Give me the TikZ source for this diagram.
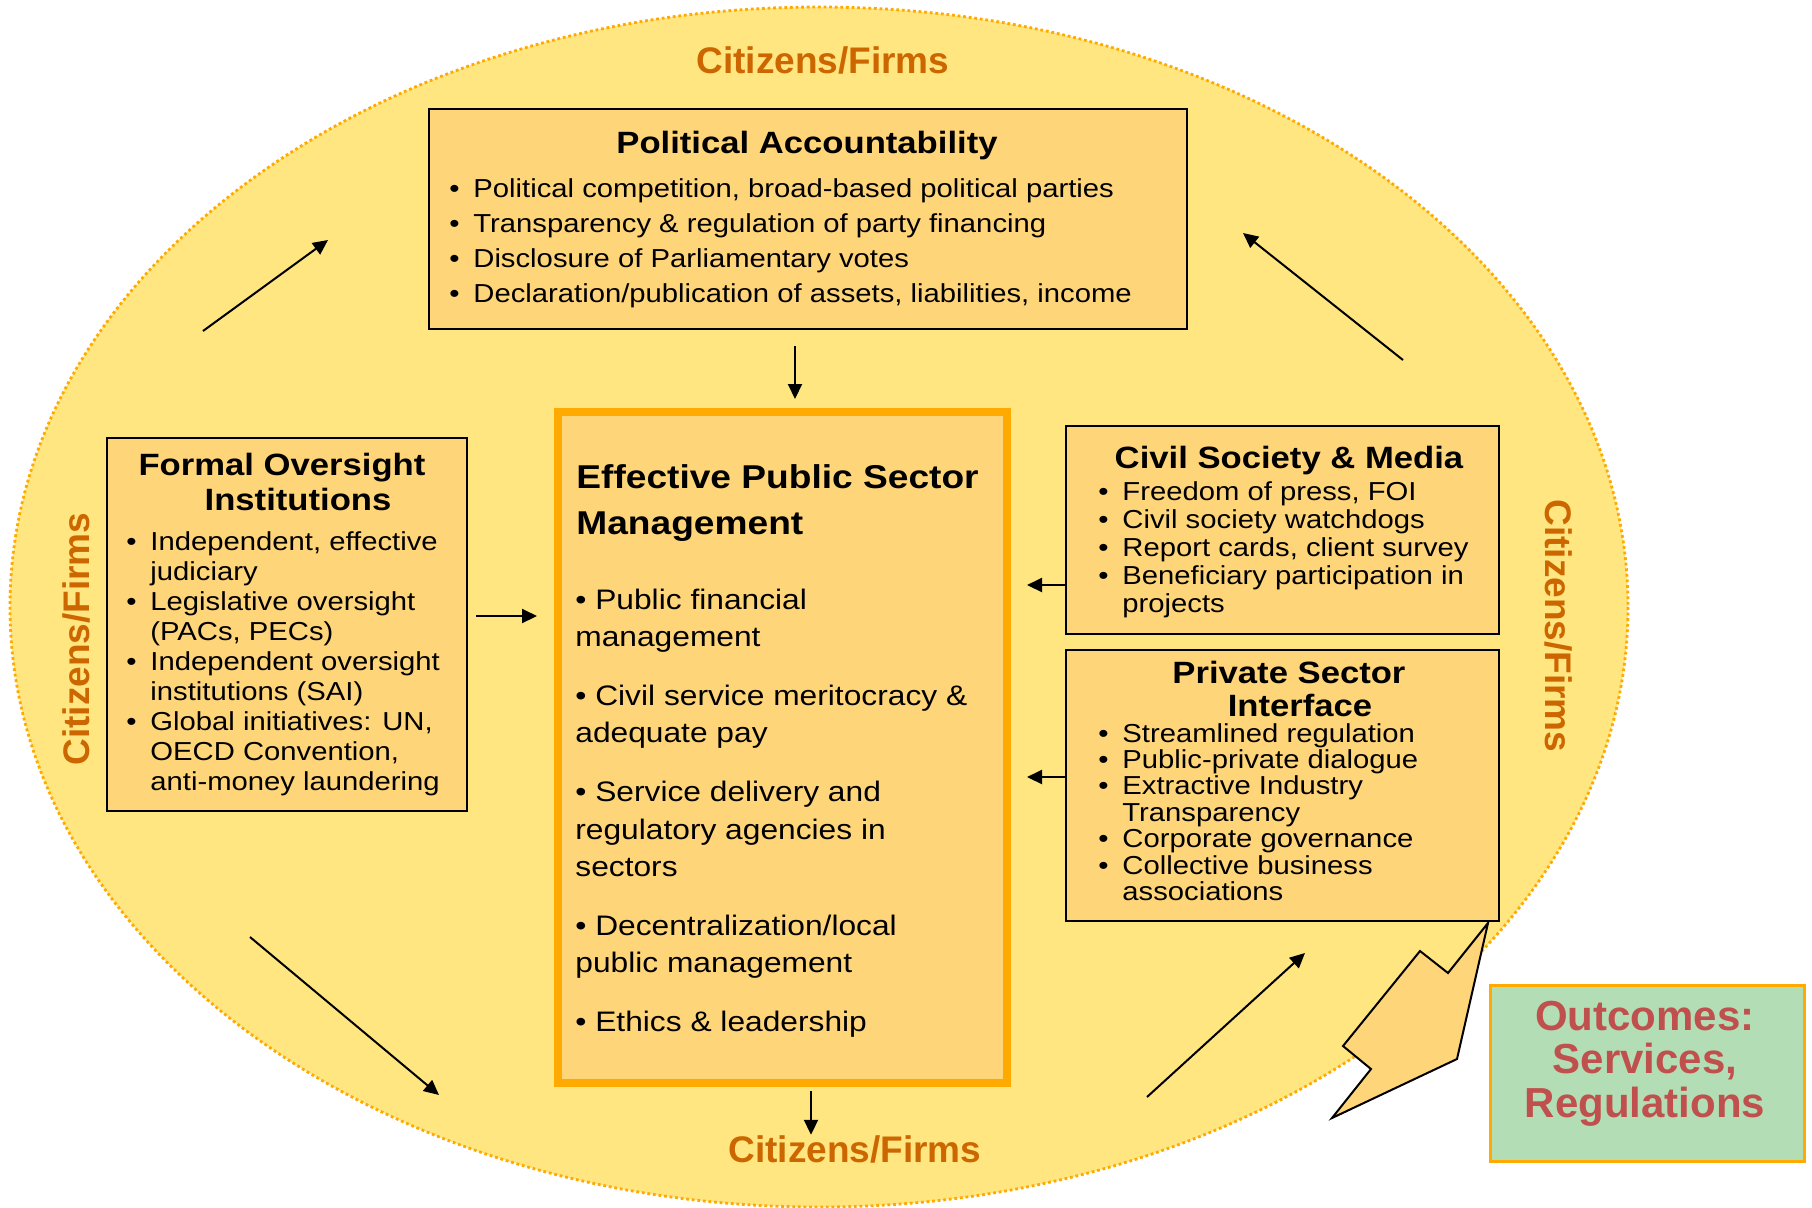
\documentclass[tikz,border=0pt]{standalone}
\usepackage{fontspec}
\setmainfont{Liberation Sans}[FakeStretch=1.125]
\newfontfamily\plainsans{Liberation Sans}
\usetikzlibrary{arrows.meta}
\definecolor{ellfill}{HTML}{FFE680}
\definecolor{boxfill}{HTML}{FFD57A}
\definecolor{orng}{HTML}{FFAA00}
\definecolor{citz}{HTML}{CC6600}
\definecolor{outg}{HTML}{B3DEB5}
\definecolor{outr}{HTML}{C0504D}
\newcommand\bl{\makebox[12pt][l]{•}}
\newcommand\ind{\hspace*{12pt}}
\lineskiplimit=-20pt
\begin{document}
\begin{tikzpicture}[x=0.5pt,y=-0.5pt,
  panel/.style={draw=black,line width=1pt,fill=boxfill,inner sep=0pt,anchor=north west},
  txt/.style={inner sep=0pt,anchor=base west},
  ttl/.style={inner sep=0pt,anchor=base,font=\bfseries\fontsize{15.4}{18}\selectfont},
  citlab/.style={inner sep=0pt,text=citz,font=\plainsans\bfseries\fontsize{18.5}{20}\selectfont},
  arr/.style={-{Triangle[length=7.5pt,width=7pt]},line width=1pt}]

\useasboundingbox (0,0) rectangle (1812,1207);
\fill[white] (0,0) rectangle (1812,1207);

% outer ellipse
\draw[fill=ellfill,draw=orng,line width=1.4pt,dash pattern=on 1.4pt off 1.4pt]
  (819,607) ellipse [x radius=809, y radius=600];

% big jagged arrow
\draw[fill=boxfill,line width=1pt,line join=miter]
  (1488,923) -- (1457,1059) -- (1332,1118) -- (1371,1069) -- (1343,1046)
  -- (1420,951) -- (1448,973) -- cycle;

% boxes
\node[panel,minimum width=379pt,minimum height=110pt] (pol) at (428,108) {};
\node[panel,minimum width=180pt,minimum height=186.5pt] (fo) at (106,437) {};
\node[panel,draw=orng,line width=4pt,minimum width=224.5pt,minimum height=335.5pt] (cpe) at (554,408) {};
\node[panel,minimum width=216.5pt,minimum height=104pt] (civ) at (1065,425) {};
\node[panel,minimum width=216.5pt,minimum height=135.5pt] (prv) at (1065,649) {};
\node[panel,fill=outg,draw=orng,line width=1.5pt,minimum width=157pt,minimum height=88pt] (out) at (1489,984) {};

% Political Accountability
\node[ttl] (polt) at (807,153) {Political Accountability};
\node[txt] (polb) at (449,197) {\parbox[t]{370pt}{\fontsize{13}{17.5}\selectfont
  \bl Political competition, broad-based political parties\\
  \bl Transparency \& regulation of party financing\\
  \bl Disclosure of Parliamentary votes\\
  \bl Declaration/publication of assets, liabilities, income}};

% Formal Oversight Institutions
\node[ttl] (fot1) at (282,475) {Formal Oversight};
\node[ttl] (fot2) at (298,510) {Institutions};
\node[txt] (fob) at (126,550) {\parbox[t]{175pt}{\fontsize{13}{15}\selectfont
  \bl Independent, effective\\
  \ind judiciary\\
  \bl Legislative oversight\\
  \ind (PACs, PECs)\\
  \bl Independent oversight\\
  \ind institutions (SAI)\\
  \bl Global initiatives: UN,\\
  \ind OECD Convention,\\
  \ind anti-money laundering}};

% Effective Public Sector Management
\node[txt] (cpet) at (576,488) {\parbox[t]{215pt}{\bfseries\fontsize{16.5}{23}\selectfont
  Effective Public Sector\\Management}};
\node[txt] (cpeb) at (575,609) {\parbox[t]{215pt}{\fontsize{14.1}{18.8}\selectfont
  • Public financial\\
  management\\[10.5pt]
  • Civil service meritocracy \&\\
  adequate pay\\[10.5pt]
  • Service delivery and\\
  regulatory agencies in\\
  sectors\\[10.5pt]
  • Decentralization/local\\
  public management\\[10.5pt]
  • Ethics \& leadership}};

% Civil Society & Media
\node[ttl] (civt) at (1289,468) {Civil Society \& Media};
\node[txt] (civb) at (1098,500) {\parbox[t]{210pt}{\fontsize{13}{14}\selectfont
  \bl Freedom of press, FOI\\
  \bl Civil society watchdogs\\
  \bl Report cards, client survey\\
  \bl Beneficiary participation in\\
  \ind projects}};

% Private Sector Interface
\node[ttl] (prvt1) at (1289,683) {Private Sector};
\node[ttl] (prvt2) at (1300,716) {Interface};
\node[txt] (prvb) at (1098,742) {\parbox[t]{210pt}{\fontsize{13}{13.2}\selectfont
  \bl Streamlined regulation\\
  \bl Public-private dialogue\\
  \bl Extractive Industry\\
  \ind Transparency\\
  \bl Corporate governance\\
  \bl Collective business\\
  \ind associations}};

% Outcomes
\node[inner sep=0pt,anchor=base,text=outr,font=\plainsans\bfseries\fontsize{21}{21.8}\selectfont]
  (outt) at (1645,1030) {\parbox[t]{155pt}{\centering Outcomes:\\Services,\\Regulations}};

% Citizens/Firms labels
\node[citlab,anchor=base] (citt) at (823,73) {Citizens/Firms};
\node[citlab,anchor=base] (citb) at (855,1162) {Citizens/Firms};
\node[citlab,rotate=90] (citl) at (76,639) {Citizens/Firms};
\node[citlab,rotate=-90] (citr) at (1559,626) {Citizens/Firms};

% helper coordinates
\coordinate (x795) at (795,0);
\coordinate (x811) at (811,0);
\coordinate (y616) at (0,616);
\coordinate (y585) at (0,585);
\coordinate (y777) at (0,777);

% connectors between boxes
\draw[arr,shorten <=8pt,shorten >=4.5pt] (pol.south -| x795) -- (cpe.north -| x795);
\draw[arr,shorten <=4pt,shorten >=8.5pt] (fo.east |- y616) -- (cpe.west |- y616);
\draw[arr,shorten >=8pt] (civ.west |- y585) -- (cpe.east |- y585);
\draw[arr,shorten >=8pt] (prv.west |- y777) -- (cpe.east |- y777);
\draw[arr,shorten <=2pt] (cpe.south -| x811) -- (citb.north -| x811);

% circulating arrows
\coordinate (c1s) at (203,331); \coordinate (c1e) at (328,240);
\coordinate (c2s) at (1403,360); \coordinate (c2e) at (1243,233);
\coordinate (c3s) at (250,937); \coordinate (c3e) at (439,1095);
\coordinate (c4s) at (1147,1097); \coordinate (c4e) at (1305,953);
\draw[arr] (c1s) -- (c1e);
\draw[arr] (c2s) -- (c2e);
\draw[arr] (c3s) -- (c3e);
\draw[arr] (c4s) -- (c4e);
\end{tikzpicture}
\end{document}
